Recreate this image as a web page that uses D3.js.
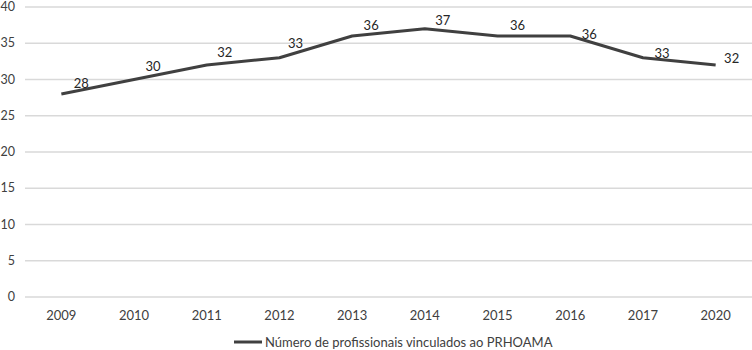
<!DOCTYPE html>
<html>
<head>
<meta charset="utf-8">
<script src="https://cdn.jsdelivr.net/npm/d3@7"></script>
<style>
  body { margin: 0; background: #fff; }
  svg { display: block; font-family: Lato, "Open Sans", sans-serif; }
</style>
</head>
<body>
<div id="chart"></div>
<script>
const years = ["2009", "2010", "2011", "2012", "2013", "2014", "2015", "2016", "2017", "2020"];
const values = [28, 30, 32, 33, 36, 37, 36, 36, 33, 32];
const yTicks = [0, 5, 10, 15, 20, 25, 30, 35, 40];
const seriesName = "Número de profissionais vinculados ao PRHOAMA";

// where Excel dropped each data label, relative to its point (layout only)
const labelDx = [20, 19, 18, 16, 19, 18, 20, 19, 19, 16];
const labelDy = [-11, -13, -13, -14, -11, -8, -11, -2, -4, -7];

const width = 752, height = 350;
const margin = {top: 7, right: 0, bottom: 53, left: 25};

const svg = d3.select("#chart")
    .append("svg")
    .attr("width", width)
    .attr("height", height);

const x = d3.scaleBand()
    .domain(years)
    .range([margin.left, width - margin.right]);
const y = d3.scaleLinear()
    .domain([0, 40])
    .range([height - margin.bottom, margin.top]);

const cx = d => x(d) + x.bandwidth() / 2;

// gridlines
svg.append("g")
    .selectAll("line")
    .data(yTicks)
    .join("line")
    .attr("x1", margin.left)
    .attr("x2", width - margin.right)
    .attr("y1", d => y(d))
    .attr("y2", d => y(d))
    .attr("stroke", "#d9d9d9")
    .attr("stroke-width", 1.3);

// y axis labels
svg.append("g")
    .selectAll("text")
    .data(yTicks)
    .join("text")
    .attr("x", 15)
    .attr("y", d => y(d))
    .attr("dy", "0.32em")
    .attr("text-anchor", "end")
    .attr("fill", "#404040")
    .style("font-size", "12.5px")
    .text(d => d);

// x axis labels
svg.append("g")
    .selectAll("text")
    .data(years)
    .join("text")
    .attr("x", d => cx(d))
    .attr("y", y(0) + 18)
    .attr("dy", "0.35em")
    .attr("text-anchor", "middle")
    .attr("fill", "#404040")
    .style("font-size", "13px")
    .text(d => d);

const line = d3.line()
    .x((d, i) => cx(years[i]))
    .y(d => y(d));

svg.append("path")
    .datum(values)
    .attr("fill", "none")
    .attr("stroke", "#404040")
    .attr("stroke-width", 3)
    .attr("stroke-linejoin", "round")
    .attr("d", line);

// data labels
svg.append("g")
    .selectAll("text")
    .data(values)
    .join("text")
    .attr("x", (d, i) => cx(years[i]) + labelDx[i])
    .attr("y", (d, i) => y(d) + labelDy[i])
    .attr("dy", "0.35em")
    .attr("text-anchor", "middle")
    .attr("fill", "#262626")
    .style("font-size", "13px")
    .text(d => d);

// legend
const legend = svg.append("g").attr("transform", "translate(234,342)");
legend.append("line")
    .attr("x1", 0).attr("x2", 28)
    .attr("stroke", "#404040")
    .attr("stroke-width", 3);
legend.append("text")
    .attr("x", 31)
    .attr("dy", "0.35em")
    .attr("fill", "#404040")
    .style("font-size", "13px")
    .text(seriesName);
</script>
</body>
</html>
